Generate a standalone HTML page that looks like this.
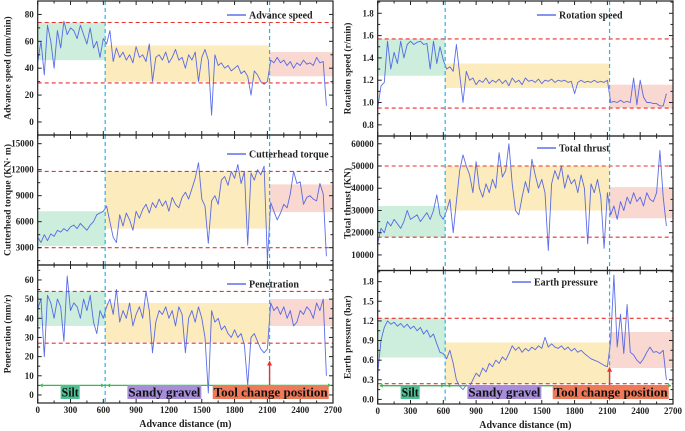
<!DOCTYPE html>
<html><head><meta charset="utf-8">
<style>
html,body{margin:0;padding:0;background:#fff;}
svg{display:block;font-family:"Liberation Serif",serif;}
</style></head>
<body>
<svg id="chart" width="685" height="431" viewBox="0 0 685 431" xmlns="http://www.w3.org/2000/svg"></svg>
<script>
// ---- data (x step 30 m) ----
const distances = [];
for (let d = 0; d <= 2640; d += 30) distances.push(d);
const advanceSpeed = [45,60,35,72,60,40,68,55,75,65,70,68,62,72,65,58,70,55,60,48,62,58,68,45,55,48,52,46,50,44,56,48,50,45,58,30,48,50,46,52,44,48,54,46,48,40,50,46,52,30,48,54,46,5,50,42,44,40,42,38,40,42,36,38,34,20,38,35,30,28,30,46,44,48,44,46,42,45,40,44,42,46,43,44,42,48,44,45,12];
const cutterTorque = [4200,3600,4500,3800,4600,4300,5000,4800,5200,4900,5400,5600,5200,5800,5400,5000,5600,6000,6800,7000,7200,7800,6000,4200,3600,6800,5500,7000,6200,5000,7200,6400,7400,8000,7000,8200,7600,8600,7800,8400,7200,8800,8000,7600,8800,9400,8600,9800,11000,12800,8600,7800,3500,8400,9000,8000,10800,11200,10200,11800,11000,12600,10400,11800,3300,11600,10800,12000,11400,12400,1500,8200,7200,6200,7000,8000,7600,9200,11800,10400,10600,8000,8800,9000,8600,8400,10400,9200,2000];
const penetration = [45,50,20,52,48,40,50,46,28,62,44,48,46,40,50,44,52,38,32,44,40,46,50,42,55,38,44,40,48,36,42,46,40,54,44,22,38,44,42,46,40,44,36,46,42,22,40,44,38,46,40,30,1,44,38,40,34,36,32,30,34,30,32,26,5,30,32,28,24,22,24,48,44,46,42,46,40,44,36,38,44,42,46,44,40,48,44,50,10];
const rotationSpeed = [0.95,1.15,1.18,1.55,1.3,1.45,1.35,1.55,1.4,1.52,1.55,1.52,1.54,1.55,1.52,1.53,1.3,1.55,1.35,1.5,1.38,1.3,1.32,1.28,1.52,1.25,1.0,1.28,1.2,1.22,1.16,1.2,1.18,1.22,1.17,1.2,1.18,1.21,1.17,1.2,1.15,1.22,1.18,1.2,1.16,1.22,1.19,1.2,1.18,1.21,1.17,1.2,1.19,1.21,1.18,1.2,1.19,1.2,1.18,1.19,1.08,1.18,1.2,1.18,1.19,1.18,1.2,1.18,1.19,1.18,1.2,1.0,1.01,1.0,1.02,1.0,1.01,1.0,1.22,0.98,1.2,1.05,1.0,1.0,0.99,0.99,0.97,0.97,1.08];
const totalThrust = [15000,22000,20000,25000,23000,26000,24000,22000,25000,30000,26000,27000,28000,25000,27000,29000,26000,30000,37000,28000,26000,30000,35000,20000,34000,48000,55000,50000,46000,38000,52000,40000,36000,42000,38000,44000,40000,56000,45000,48000,60000,42000,30000,28000,36000,43000,38000,53000,46000,40000,44000,38000,12000,42000,48000,44000,50000,40000,46000,42000,44000,38000,46000,40000,15000,42000,38000,44000,36000,13000,38000,28000,32000,26000,34000,30000,36000,33000,38000,34000,36000,32000,38000,35000,34000,38000,57000,36000,23000];
const earthPressure = [0.4,0.9,1.1,1.2,1.15,1.18,1.12,1.16,1.1,1.15,1.08,1.12,1.05,1.1,1.0,1.06,0.95,1.0,0.85,0.72,0.7,0.62,0.75,0.55,0.3,0.2,0.15,0.22,0.2,0.3,0.4,0.35,0.48,0.42,0.55,0.5,0.6,0.55,0.65,0.6,0.7,0.82,0.75,0.8,0.72,0.78,0.74,0.8,0.76,0.82,0.78,0.95,0.8,0.85,0.8,0.78,0.82,0.76,0.8,0.74,0.78,0.72,0.75,0.7,0.66,0.62,0.6,0.58,0.55,0.52,0.5,0.9,1.9,0.8,1.3,0.7,1.45,0.72,0.68,0.6,0.55,0.62,0.72,0.8,0.72,0.73,0.7,0.75,0.3];
const xTickLabels = [0,300,600,900,1200,1500,1800,2100,2400,2700];
const boundaries = [617, 2120];

const NS = "http://www.w3.org/2000/svg";
const svg = document.getElementById('chart');
function mk(tag, attrs, parent) {
  const e = document.createElementNS(NS, tag);
  for (const k in attrs) e.setAttribute(k, attrs[k]);
  (parent || svg).appendChild(e);
  return e;
}

const panels = [
  {name:'advance-speed', x0:37.7, x1:333, y0:1, y1:135, vmin:-9.7, vmax:90, ticks:[0,20,40,60,80], minor:10, fmt:v=>v,
   data:advanceSpeed, legend:'Advance speed', lx:227, ly:15, title:'Advance speed (mm/min)',
   bands:[[46,74],[30,57],[34,52]], red:[74,29]},
  {name:'cutterhead-torque', x0:37.7, x1:333, y0:135, y1:265, vmin:1000, vmax:16000, ticks:[3000,6000,9000,12000,15000], minor:1500, fmt:v=>v,
   data:cutterTorque, legend:'Cutterhead torque', lx:227, ly:154, title:'Cutterhead torque (KN· m)',
   bands:[[3200,7200],[5200,11800],[7100,10300]], red:[11800,3000]},
  {name:'penetration', x0:37.7, x1:333, y0:265, y1:403, vmin:-4.2, vmax:67.8, ticks:[0,10,20,30,40,50,60], minor:5, fmt:v=>v,
   data:penetration, legend:'Penetration', lx:227, ly:284, title:'Penetration (mm/r)',
   bands:[[36,54],[27.5,48],[36,50]], red:[54,27], bottom:true, zoneY:5, arrow:[2,18]},
  {name:'rotation-speed', x0:377.7, x1:673, y0:1, y1:136, vmin:0.7, vmax:1.91, ticks:[0.8,1.0,1.2,1.4,1.6,1.8], minor:0.1, fmt:v=>v.toFixed(1),
   data:rotationSpeed, legend:'Rotation speed', lx:537, ly:15, title:'Rotation speed (r/min)',
   bands:[[1.24,1.57],[1.13,1.35],[0.95,1.16]], red:[1.57,0.95]},
  {name:'total-thrust', x0:377.7, x1:673, y0:136, y1:270.5, vmin:3000, vmax:63500, ticks:[10000,20000,30000,40000,50000,60000], minor:5000, fmt:v=>v,
   data:totalThrust, legend:'Total thrust', lx:537, ly:148, title:'Total thrust (KN)',
   bands:[[18000,32000],[30000,50000],[26500,40500]], red:[50000,18000]},
  {name:'earth-pressure', x0:377.7, x1:673, y0:270.5, y1:404, vmin:-0.07, vmax:1.97, ticks:[0,0.3,0.6,0.9,1.2,1.5,1.8], minor:0.15, fmt:v=>v.toFixed(1),
   data:earthPressure, legend:'Earth pressure', lx:512, ly:282, title:'Earth pressure (bar)',
   bands:[[0.64,1.24],[0.24,0.87],[0.48,1.03]], red:[1.24,0.24], bottom:true, zoneY:0.21, arrow:[0.2,0.5]}
];
const bandColors = ['#cdeedc','#fcebbd','#f8d8d0'];

panels.forEach(p => {
  const g = mk('g', {});
  
  
  const sx = d => p.x0 + (d / 2700) * (p.x1 - p.x0);
  const sy = v => p.y1 - (v - p.vmin) / (p.vmax - p.vmin) * (p.y1 - p.y0);
  const ranges = [[0, boundaries[0]], [boundaries[0], boundaries[1]], [boundaries[1], 2700]];
  p.bands.forEach((b, i) => {
    const r = mk('rect', {x:sx(ranges[i][0]), y:sy(b[1]), width:sx(ranges[i][1]) - sx(ranges[i][0]), height:sy(b[0]) - sy(b[1]), fill:bandColors[i]}, g);
    
    
  });
  let dstr = '';
  p.data.forEach((v, i) => { dstr += (i ? 'L' : 'M') + sx(distances[i]).toFixed(1) + ',' + sy(v).toFixed(1); });
  const line = mk('path', {d:dstr, fill:'none', stroke:'#3d55e6', 'stroke-width':0.9, 'stroke-opacity':0.85, 'stroke-linejoin':'round'}, g);
  
  
  p.red.forEach(v => {
    const l = mk('line', {x1:p.x0, x2:p.x1, y1:sy(v), y2:sy(v), stroke:'#e8322e', 'stroke-width':1.1, 'stroke-dasharray':'4,3'}, g);
    
    
  });
  boundaries.forEach(b => {
    const l = mk('line', {x1:sx(b), x2:sx(b), y1:p.y0, y2:p.y1, stroke:'#22b8e8', 'stroke-width':1.2, 'stroke-dasharray':'4,3'}, g);
    
    
  });
  const fr = mk('rect', {x:p.x0, y:p.y0, width:p.x1 - p.x0, height:p.y1 - p.y0, fill:'none', stroke:'#222', 'stroke-width':1.2}, g);
  
  
  const t0 = p.ticks[0] - p.minor * Math.floor((p.ticks[0] - p.vmin) / p.minor);
  for (let v = t0; v <= p.vmax + 1e-9; v += p.minor) {
    if (v < p.vmin) continue;
    const major = p.ticks.some(t => Math.abs(t - v) < p.minor / 10);
    const len = major ? 4 : 2.5;
    mk('line', {x1:p.x0, x2:p.x0 + len, y1:sy(v), y2:sy(v), stroke:'#222', 'stroke-width':1}, g);
    mk('line', {x1:p.x1, x2:p.x1 - len, y1:sy(v), y2:sy(v), stroke:'#222', 'stroke-width':1}, g);
  }
  p.ticks.forEach(v => {
    const t = mk('text', {x:p.x0 - 4, y:sy(v) + 3, 'text-anchor':'end', 'font-size':9, 'font-weight':'bold', fill:'#222'}, g);
    t.textContent = p.fmt(v);
    
    
  });
  for (let d = 0; d <= 2700; d += 150) {
    const len = d % 300 === 0 ? 4 : 2.5;
    mk('line', {x1:sx(d), x2:sx(d), y1:p.y1, y2:p.y1 - len, stroke:'#222', 'stroke-width':1}, g);
    mk('line', {x1:sx(d), x2:sx(d), y1:p.y0, y2:p.y0 + len, stroke:'#222', 'stroke-width':1}, g);
  }
  const tx = p.x0 - 27;
  const cy = (p.y0 + p.y1) / 2;
  const yt = mk('text', {x:tx, y:cy, transform:`rotate(-90 ${tx} ${cy})`, 'text-anchor':'middle', 'font-size':9.5, 'font-weight':'bold', fill:'#222'}, g);
  yt.textContent = p.title;
  
  
  const lg = mk('g', {}, g);
  
  
  mk('line', {x1:p.lx, x2:p.lx + 19, y1:p.ly, y2:p.ly, stroke:'#3d55e6', 'stroke-width':1.2}, lg);
  const lt = mk('text', {x:p.lx + 22, y:p.ly + 3.5, 'font-size':10, 'font-weight':'bold', fill:'#222'}, lg);
  lt.textContent = p.legend;
  if (p.bottom) {
    xTickLabels.forEach(d => {
      const t = mk('text', {x:sx(d), y:p.y1 + 10, 'text-anchor':'middle', 'font-size':9, 'font-weight':'bold', fill:'#222'}, g);
      t.textContent = d;
      
      
    });
    const xt = mk('text', {x:(p.x0 + p.x1) / 2, y:p.y1 + 24, 'text-anchor':'middle', 'font-size':10, 'font-weight':'bold', fill:'#222'}, g);
    xt.textContent = 'Advance distance (m)';
    
    
    const zy = sy(p.zoneY);
    const zl = mk('line', {x1:p.x0 + 2, x2:p.x1 - 2, y1:zy, y2:zy, stroke:'#2fbf4a', 'stroke-width':1.3}, g);
    
    
    [[p.x0 + 2, 1], [sx(boundaries[0]) - 1, -1], [sx(boundaries[0]) + 2, 1], [p.x1 - 2, -1]].forEach(a => {
      mk('path', {d:`M${a[0]},${zy} l${3 * a[1]},-2 v4 z`, fill:'#2fbf4a'}, g);
    });
    const ax = sx(boundaries[1]);
    const ar = mk('g', {}, g);
    
    
    mk('line', {x1:ax, x2:ax, y1:sy(p.arrow[0]), y2:sy(p.arrow[1]) + 4, stroke:'#e8322e', 'stroke-width':1.4}, ar);
    mk('path', {d:`M${ax},${sy(p.arrow[1])} l-2.5,5 h5 z`, fill:'#e8322e'}, ar);
    const labs = [['Silt', '#4dbf94', sx(210), 19, 'silt-label'],
                  ['Sandy gravel', '#a68fd8', sx(820), 74, 'sandy-gravel-label'],
                  ['Tool change position', '#ee7a5a', sx(1600), 116, 'tool-change-position-label']];
    labs.forEach(L => {
      const lgp = mk('g', {}, g);
      
      
      mk('rect', {x:L[2], y:385, width:L[3], height:14, fill:L[1]}, lgp);
      const tt = mk('text', {x:L[2] + L[3] / 2, y:396.5, 'text-anchor':'middle', 'font-size':13, 'font-weight':'bold', fill:'#111', textLength:L[3] - 2, lengthAdjust:'spacingAndGlyphs'}, lgp);
      tt.textContent = L[0];
    });
  }
});
</script>
</body></html>
